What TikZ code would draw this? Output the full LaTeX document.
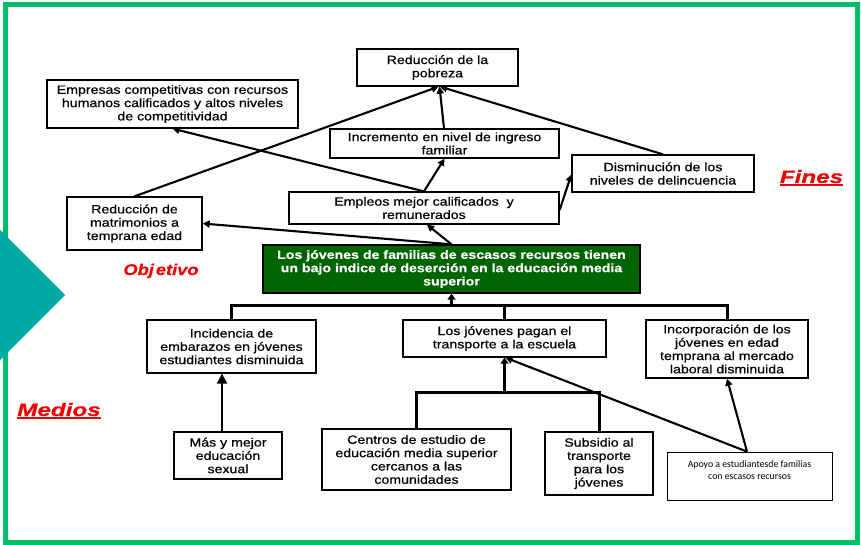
\documentclass[tikz,border=0pt]{standalone}
\usepackage{fontspec}
\setmainfont{Liberation Sans}[FakeStretch=1.18, FakeBold=0.6]
\newfontfamily\apoyofont{Carlito}
\usetikzlibrary{arrows.meta,calc}
\definecolor{framegreen}{RGB}{0,188,104}
\definecolor{objgreen}{RGB}{0,100,0}
\definecolor{tealtri}{RGB}{0,168,166}
\definecolor{labred}{RGB}{240,0,0}
\begin{document}
\begin{tikzpicture}[x=1pt,y=-1pt,
  box/.style={draw, line width=1.3pt, align=center, inner sep=0pt, fill=white,
    font=\fontsize{12}{13.3}\selectfont},
  conn/.style={line width=2.1pt, -{Triangle[length=7pt,width=7pt]}},
  bigconn/.style={line width=2pt, -{Triangle[length=10pt,width=10pt]}},
  bus/.style={line width=3pt},
  busarrow/.style={line width=3pt, -{Triangle[length=6pt,width=8pt]}},
  lab/.style={text=labred, inner sep=0pt, anchor=base, font=\bfseries\itshape}
]
\useasboundingbox (0,0) rectangle (861,545);
\fill[white] (0,0) rectangle (861,545);
\draw[line width=5pt, framegreen] (5.5,4.5) rectangle (857,542);
\fill[tealtri] (0,230) -- (65,295) -- (0,360) -- cycle;

% Fines
\node[box, minimum width=161pt, minimum height=37pt] (pobreza) at (437.5,67.5) {Reducción de la\\pobreza};
\node[box, minimum width=251pt, minimum height=48pt] (empresas) at (172.5,104) {Empresas competitivas con recursos\\humanos calificados y altos niveles\\de competitividad};
\node[box, minimum width=229pt, minimum height=29pt] (incremento) at (444.5,143.5) {Incremento en nivel de ingreso\\familiar};
\node[box, minimum width=182pt, minimum height=37pt] (disminucion) at (663,173.5) {Disminución de los\\niveles de delincuencia};
\node[box, minimum width=270pt, minimum height=32pt] (empleos) at (424,208) {Empleos mejor calificados\ \ y\\remunerados};
\node[box, minimum width=135pt, minimum height=53pt] (matrimonios) at (134.5,223.5) {Reducción de\\matrimonios a\\temprana edad};

% Objetivo
\node[box, fill=objgreen, text=white, font=\bfseries\fontsize{12}{13.3}\selectfont, minimum width=377pt, minimum height=48pt] (obj) at (451.5,269) {Los jóvenes de familias de escasos recursos tienen\\un bajo indice de deserción en la educación media\\superior};

% Medios
\node[box, minimum width=169pt, minimum height=53pt] (incidencia) at (231.5,346.5) {Incidencia de\\embarazos en jóvenes\\estudiantes disminuida};
\node[box, minimum width=203pt, minimum height=37pt] (pagan) at (504.5,338.5) {Los jóvenes pagan el\\transporte a la escuela};
\node[box, minimum width=162pt, minimum height=58pt] (incorporacion) at (727,349) {Incorporación de los\\jóvenes en edad\\temprana al mercado\\laboral disminuida};
\node[box, minimum width=108pt, minimum height=47pt] (mas) at (228,455.5) {Más y mejor\\educación\\sexual};
\node[box, minimum width=189pt, minimum height=61pt] (centros) at (416.5,459.5) {Centros de estudio de\\educación media superior\\cercanos a las\\comunidades};
\node[box, minimum width=108pt, minimum height=63pt] (subsidio) at (599,463.5) {Subsidio al\\transporte\\para los\\jóvenes};
\node[draw, line width=0.8pt, fill=white, minimum width=165pt, minimum height=48pt, inner sep=0pt] (apoyo) at (749.5,476) {};
\node[align=center, inner sep=0pt, font=\apoyofont\fontsize{9.8}{11.3}\selectfont] (apoyotext) at (749.5,470) {Apoyo a estudiantesde familias\\con escasos recursos};

% Labels
\node[lab, font=\bfseries\itshape\fontsize{15.5}{16}\selectfont] (objlab) at (161,275) {Obj\hspace{2pt}etivo};
\node[lab, font=\bfseries\itshape\fontsize{18}{19}\selectfont] (fines) at (811.5,183) {\scalebox{1.14}[1]{Fines}};
\node[lab, font=\bfseries\itshape\fontsize{18}{19}\selectfont] (medios) at (59,416) {\scalebox{1.14}[1]{Medios}};
\draw[labred, line width=1.6pt] ([yshift=-2pt]fines.base west) -- ([yshift=-2pt]fines.base east);
\draw[labred, line width=1.6pt] ([yshift=-2pt]medios.base west) -- ([yshift=-2pt]medios.base east);

% Connectors (fines)
\draw[conn] ([xshift=-0.5pt]incremento.north) -- ([xshift=2pt]pobreza.south);
\draw[conn] (disminucion.north) -- ([xshift=2.5pt]pobreza.south);
\draw[conn] (matrimonios.north) -- ([xshift=1pt]pobreza.south);
\draw[conn] (empleos.north) -- (incremento.south);
\draw[conn] (empleos.north) -- (empresas.south);
\draw[conn] ([yshift=-2pt]empleos.east) -- ([yshift=-1pt]disminucion.west);
\draw[conn] (obj.north) -- ([xshift=3pt]empleos.south);
\draw[conn] (obj.north) -- (matrimonios.east);

% Upper bus (medios -> objetivo)
\draw[bus] (incidencia.north) -- ++(0,-14) -| (incorporacion.north);
\draw[bus] (pagan.north) -- ++(0,-14);
\draw[busarrow] ($(obj.south)+(0,13)$) -- (obj.south);

% Lower bus
\draw[bus] (centros.north) -- ++(0,-36) -| (subsidio.north);
\draw[busarrow] ($(pagan.south)+(0,36)$) -- (pagan.south);

% Apoyo
\draw[conn] ([xshift=-2.5pt]apoyo.north) -- ([xshift=1pt]pagan.south);
\draw[conn] ([xshift=-2.5pt]apoyo.north) -- (incorporacion.south);

% Mas -> incidencia
\draw[bigconn] ([xshift=-6pt]mas.north) -- ([xshift=-6pt]mas.north |- incidencia.south);
\end{tikzpicture}
\end{document}
